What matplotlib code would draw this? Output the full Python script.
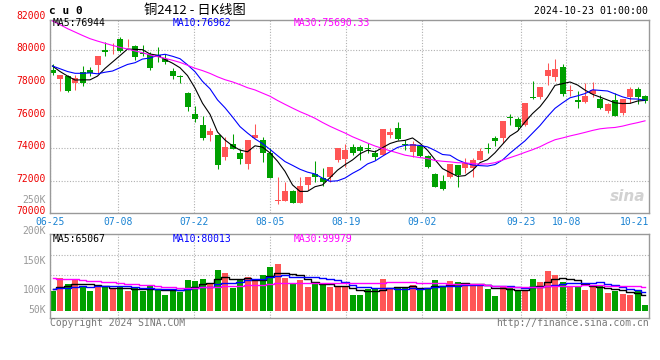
import matplotlib
matplotlib.use('Agg')
import matplotlib.pyplot as plt
import matplotlib.transforms as mtransforms
import numpy as np

# --------------------------------------------------------------------------------------------------
# DATA: cu2412 daily bars, 06-25 .. 10-23 (the last bar is the 10-23 night session)
# --------------------------------------------------------------------------------------------------
opens = [78770, 78260, 78440, 78010, 78670, 78770, 79100, 80020, 80240, 80670,
         80550, 80260, 79850, 79770, 79690, 79450, 78750, 78440, 77400, 76090,
         75420, 74820, 74800, 73430, 74250, 73680, 73030, 74640, 74500, 73680,
         70730, 70780, 71370, 70650, 71720, 72410, 72150, 72250, 73270, 73310,
         74050, 74090, 74030, 73720, 73580, 74820, 75250, 74270, 73780, 74130,
         73520, 72410, 71980, 72250, 72960, 72800, 72800, 73270, 74030, 74600,
         74640, 75910, 75790, 75420, 77140, 77120, 78440, 78340, 78960, 77480,
         76930, 76810, 77320, 77010, 76280, 76950, 76170, 77160, 77630, 77220]
highs = [79160, 78500, 78500, 78500, 79020, 78980, 79650, 80510, 80470, 80840,
         80670, 80330, 80320, 79880, 80220, 79750, 78910, 78500, 77440, 76580,
         75970, 75210, 74820, 74700, 74870, 73950, 74500, 75480, 74700, 73990,
         72250, 71940, 71430, 72210, 72210, 73230, 72760, 72860, 73990, 74250,
         74250, 74190, 74330, 73880, 75170, 75210, 75600, 74500, 74440, 74150,
         73600, 72490, 72350, 73030, 72980, 73370, 73370, 74030, 74330, 74740,
         75660, 76090, 75930, 76790, 78120, 77770, 79240, 79470, 79160, 77870,
         77500, 77970, 78040, 77260, 76750, 77360, 76990, 77770, 77770, 77260]
lows = [78500, 77520, 77420, 77580, 77830, 78440, 78590, 79670, 79780, 79900,
        80180, 79400, 79650, 78810, 79280, 79160, 78260, 77970, 76260, 75600,
        74500, 74440, 72720, 73270, 73950, 73000, 72700, 74620, 73170, 72150,
        70570, 70760, 70610, 70630, 71430, 71920, 71690, 71940, 73170, 72860,
        73580, 73270, 73680, 73270, 73560, 74640, 74520, 73880, 73480, 73470,
        72800, 71590, 71430, 72150, 71630, 72490, 72210, 73250, 73680, 74130,
        74330, 75400, 75110, 75360, 76990, 77010, 77870, 78140, 77200, 77200,
        76440, 76790, 77120, 76400, 76170, 75950, 76030, 76750, 76690, 76790]
closes = [78590, 78500, 77520, 78320, 78010, 78590, 79650, 79880, 80280, 79980,
          80590, 79570, 79780, 78940, 79610, 79280, 78440, 78380, 76540, 75770,
          74640, 75030, 72960, 74090, 73970, 73350, 74500, 74800, 73680, 72190,
          70820, 71370, 70650, 71680, 72210, 72250, 71920, 72860, 73990, 73880,
          73720, 73820, 73950, 73480, 75170, 74990, 74540, 74190, 74230, 73520,
          72860, 71630, 71470, 73030, 72350, 73070, 73270, 73820, 73950, 74460,
          75660, 75830, 75270, 76790, 77050, 77770, 78790, 78850, 77300, 77570,
          76850, 77220, 77570, 76440, 76690, 75970, 76990, 77630, 77160, 76890]
volumes = [82600, 135800, 113400, 131600, 100800, 82600, 105000, 98000, 89600, 98000,
           82600, 93800, 82600, 103600, 91000, 65800, 91000, 79800, 128800, 124600,
           133000, 114800, 170800, 158200, 96600, 128800, 141400, 124600, 151200, 183400,
           196000, 137200, 112000, 128800, 100800, 120400, 106400, 99400, 99400, 100800,
           65800, 65800, 89600, 89600, 133000, 89600, 96600, 96600, 107800, 86800,
           93800, 128800, 100800, 124600, 120400, 110600, 105000, 105000, 91000, 63000,
           103600, 93800, 86800, 86800, 133000, 120400, 166600, 149800, 120400, 103600,
           103600, 86800, 100800, 103600, 74200, 82600, 71400, 65800, 86800, 23800]

# the 29 sessions before 06-25, only used to seed the moving averages
pre_closes = [85200, 84900, 84600, 84300, 84500, 84100, 83900, 84200, 83640, 83600,
              83200, 82900, 83100, 82700, 82400, 82000, 82300, 81800, 81300, 78990,
              80175, 79224, 79421, 78014, 78351, 80190, 78909, 79546, 77953]
pre_volumes = [175000, 182000, 168000, 171000, 190000, 165000, 160000, 172000, 178000, 158000,
               163000, 170000, 155000, 166000, 150000, 162000, 158000, 160600, 90000, 90000,
               88000, 91000, 87000, 92000, 90000, 92000, 93000, 90800, 89600]

tick_idx = [0, 9, 19, 29, 39, 49, 62, 68, 77]
tick_labels = ['06-25', '07-08', '07-22', '08-05', '08-19', '09-02', '09-23', '10-08', '10-21']
price_grid = [72000, 74000, 76000, 78000, 80000]
price_labels = [70000, 72000, 74000, 76000, 78000, 80000, 82000]
vol_labels = ['250K', '200K', '150K', '100K', '50K']
price_ma_text = ['MA5:76944', 'MA10:76962', 'MA30:75690.33']
vol_ma_text = ['MA5:65067', 'MA10:80013', 'MA30:99979']

# --------------------------------------------------------------------------------------------------
# STYLE / LAYOUT
# --------------------------------------------------------------------------------------------------
RED = '#ff5555'
GREEN = '#00a000'
BLUE_TXT = '#1982d2'
GRID = '#b0b0b0'
MONO = 'DejaVu Sans Mono'
MA_COLORS = ['black', '#0000ff', '#ff00ff']

W, H = 660, 360


def fx(px):
    return px / W


def fy(py):
    return 1 - py / H


def moving_avg(seed, vals, n):
    full = np.r_[seed, vals].astype(float)
    return np.convolve(full, np.ones(n) / n, mode='valid')[-len(vals):]


o = np.array(opens)
c = np.array(closes)
x = np.arange(len(c))
up = c >= o
colors = np.where(up, RED, GREEN)
# sina places the date grid on 79 equal steps across the panel
tick_pos = [-1 / 3 + i * 80 / 79 for i in tick_idx]
xlim = (-1 / 3, 79.53)

fig = plt.figure(figsize=(W / 100, H / 100), dpi=100)
ax = fig.add_axes([fx(50), fy(213.3), fx(649) - fx(50), fy(20) - fy(213.3)])
axv = fig.add_axes([fx(50), fy(318), fx(649) - fx(50), fy(234.3) - fy(318)])

# --------------------------------------------------------------------------------------------------
# PRICE PANEL
# --------------------------------------------------------------------------------------------------
ax.vlines(x, lows, highs, colors=colors, lw=0.75, zorder=2)
ax.bar(x, np.maximum(np.abs(c - o), 45), bottom=np.minimum(o, c), width=0.8,
       color=colors, lw=0, zorder=2)
for n, col in zip([5, 10, 30], MA_COLORS):
    ax.plot(x, moving_avg(pre_closes, closes, n), color=col, lw=0.8, zorder=3)

ax.set_xlim(*xlim)
ax.set_ylim(70000, 81860)
ax.set_xticks(tick_pos)
ax.set_xticklabels(tick_labels, color=BLUE_TXT, fontsize=7, family=MONO)
ax.set_yticks(price_grid)
ax.tick_params(axis='x', length=0, pad=2.5)
ax.tick_params(axis='y', length=0, labelleft=False)
ax.grid(True, color=GRID, ls=(0, (1, 1.5)), lw=0.8, zorder=0)
ax.get_xgridlines()[-1].set_visible(False)

trans = mtransforms.offset_copy(
    mtransforms.blended_transform_factory(fig.transFigure, ax.transData), fig=fig, y=2, units='dots')
for p in price_labels:
    ax.text(fx(46), p, str(p), transform=trans, ha='right', va='center',
            color='#ee0000', fontsize=7, family=MONO)

ax.text(0.965, 0.085, 'sina', transform=ax.transAxes, ha='center', va='center', color='#d2d2d2',
        fontsize=11, weight='bold', style='italic', zorder=1)

# --------------------------------------------------------------------------------------------------
# VOLUME PANEL
# --------------------------------------------------------------------------------------------------
axv.bar(x, volumes, width=0.8, color=colors, lw=0, zorder=2)
for n, col in zip([5, 10, 30], MA_COLORS):
    axv.plot(x, moving_avg(pre_volumes, volumes, n), color=col, lw=1.0,
             drawstyle='steps-mid', zorder=3)

axv.set_xlim(*xlim)
axv.set_ylim(-30660, 320880)
axv.set_xticks(tick_pos)
axv.set_yticks([148700, 232700])
axv.tick_params(length=0, labelleft=False, labelbottom=False)
axv.grid(True, color=GRID, ls=(0, (1, 1.5)), lw=0.8, zorder=0)
axv.get_xgridlines()[-1].set_visible(False)

for a in (ax, axv):
    for s in a.spines.values():
        s.set_color('#999999')
        s.set_linewidth(1.0)

for lab, yp in zip(vol_labels, [200, 230.7, 261.5, 290, 310]):
    fig.text(fx(46), fy(yp), lab, ha='right', va='center', color='#999999', fontsize=7, family=MONO)

# --------------------------------------------------------------------------------------------------
# HEADER / FOOTER TEXT
# --------------------------------------------------------------------------------------------------
fig.text(fx(49), fy(11.5), 'c u 0', ha='left', va='center', fontsize=8, weight='bold', family=MONO)
fig.text(fx(195), fy(10.5), '铜2412 - 日K线图', ha='center', va='center', fontsize=9.5,
         family=['Noto Sans CJK SC', 'DejaVu Sans'])
fig.text(fx(648), fy(11.5), '2024-10-23 01:00:00', ha='right', va='center', fontsize=7.1, family=MONO)

for txt, xp, col in zip(price_ma_text, [53, 173, 294], MA_COLORS):
    fig.text(fx(xp), fy(23.5), txt, ha='left', va='center', color=col, fontsize=7, family=MONO)
for txt, xp, col in zip(vol_ma_text, [53, 173, 294], MA_COLORS):
    fig.text(fx(xp), fy(238.5), txt, ha='left', va='center', color=col, fontsize=7, family=MONO)

fig.text(fx(50), fy(323.5), 'Copyright 2024 SINA.COM', ha='left', va='center', color='#777777',
         fontsize=7, family=MONO)
fig.text(fx(649), fy(323.5), 'http://finance.sina.com.cn', ha='right', va='center', color='#777777',
         fontsize=7, family=MONO)

fig.savefig('out.png', dpi=100)
